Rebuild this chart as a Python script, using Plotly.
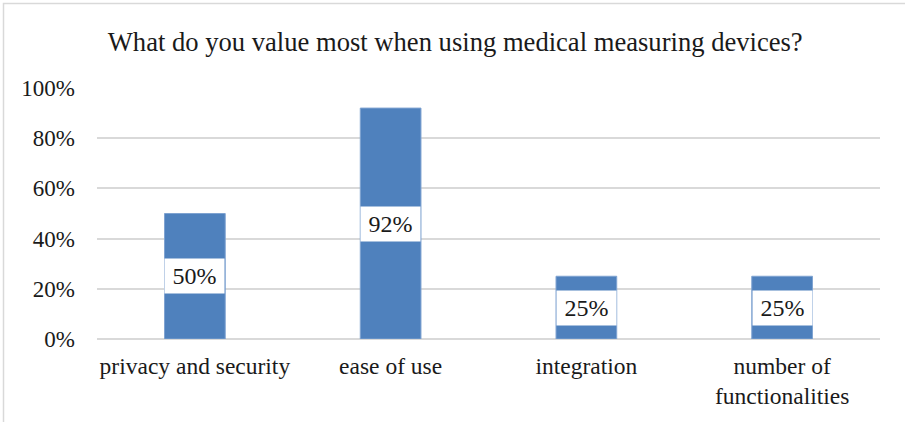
import plotly.graph_objects as go

categories = ["privacy and security", "ease of use", "integration", "number of<br>functionalities"]
values = [0.50, 0.92, 0.25, 0.25]
labels = ["50%", "92%", "25%", "25%"]
title_text = "What do you value most when using medical measuring devices?"
tick_vals = [0, 0.2, 0.4, 0.6, 0.8, 1.0]
tick_text = ["0%", "20%", "40%", "60%", "80%", "100%"]

FONT = "Liberation Serif"
W, H = 905, 422
L, R, T, B = 97, 25, 88, 83

fig = go.Figure()
fig.add_trace(go.Bar(
    x=categories, y=values, width=0.31,
    marker=dict(color="#4F81BD", line=dict(color="#7FA3D1", width=1)),
    hoverinfo="skip",
))

for c, v, t in zip(categories, values, labels):
    fig.add_annotation(
        x=c, y=v / 2, xref="x", yref="y", text=t, showarrow=False,
        font=dict(family=FONT, size=24, color="#1a1a1a"),
        bgcolor="white", width=59, height=34, borderpad=0,
        xanchor="center", yanchor="middle",
    )

pw = W - L - R
ph = H - T - B
# chart border (left and top visible)
fig.add_shape(type="rect", xref="paper", yref="paper",
              x0=(3.5 - L) / pw, x1=(W + 10 - L) / pw,
              y0=-(B + 10) / ph, y1=(ph + T - 3.5) / ph,
              line=dict(color="#D9D9D9", width=1.5), fillcolor="rgba(0,0,0,0)", layer="below")

fig.update_layout(
    width=W, height=H,
    margin=dict(l=L, r=R, t=T, b=B),
    paper_bgcolor="white", plot_bgcolor="white",
    showlegend=False,
    font=dict(family=FONT, size=23, color="#1a1a1a"),
    title=dict(text=title_text, x=0.503, xanchor="center", y=1 - 42 / H, yanchor="middle",
               yref="container", font=dict(family=FONT, size=26.6, color="#1a1a1a")),
    xaxis=dict(showgrid=False, showline=False, ticks="", tickfont=dict(family=FONT, size=23.5),
               ticklabelstandoff=10),
    yaxis=dict(range=[0, 1.0], tickvals=tick_vals, ticktext=tick_text,
               showgrid=True, gridcolor="#D9D9D9", gridwidth=1.5,
               zeroline=True, zerolinecolor="#D9D9D9", zerolinewidth=1.5,
               showline=False, ticks="", tickfont=dict(family=FONT, size=23), ticklabelstandoff=21),
)

fig.write_html("out.html", config={"displayModeBar": False},
               post_script="document.body.style.margin='0';")
